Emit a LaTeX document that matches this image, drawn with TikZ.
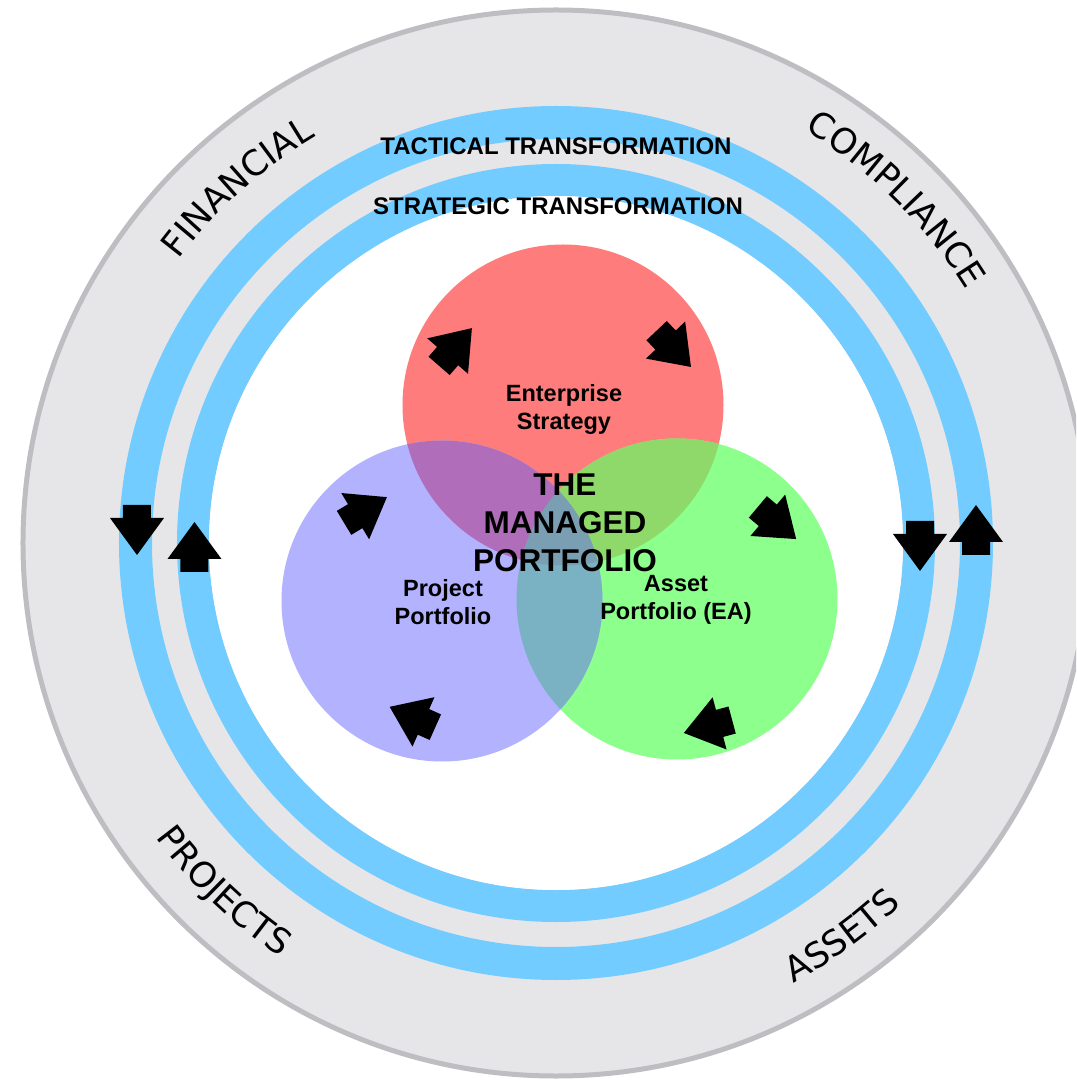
\documentclass[tikz,border=0pt]{standalone}
\usepackage{fontspec}
\setmainfont{Liberation Sans}
\newfontfamily\ringfont{DejaVu Sans}
\newcommand\ringsize{\fontsize{35}{40}\selectfont}
\usetikzlibrary{decorations.text}

\definecolor{ringgrey}{RGB}{230,230,232}
\definecolor{rimgrey}{RGB}{190,190,194}
\definecolor{ringblue}{RGB}{114,204,255}
\definecolor{stratred}{RGB}{255,124,124}
\definecolor{projblue}{RGB}{178,178,255}
\definecolor{assetgreen}{RGB}{140,255,140}
\definecolor{redblue}{RGB}{176,110,186}
\definecolor{redgreen}{RGB}{143,216,106}
\definecolor{bluegreen}{RGB}{122,178,196}
\definecolor{allthree}{RGB}{122,158,178}

\tikzset{
  bandtitle/.style={font=\bfseries\fontsize{24}{29}\selectfont},
  circtitle/.style={font=\bfseries\fontsize{23.5}{28}\selectfont, align=center},
  ringlabel/.style={decorate, decoration={text along path, text align=center, text={|\ringfont\ringsize|#1}}},
  blockarrow/.pic={\fill[black] (-25,-14) -- (-12,-14) -- (-12,-27) -- (25,0) -- (-12,27) -- (-12,14) -- (-25,14) -- cycle;}
}

\begin{document}
\begin{tikzpicture}[x=1pt, y=1pt]
  \useasboundingbox (-556,-538) rectangle (520,543);
  \clip (-556,-538) rectangle (520,543);

  % outer disc and the two transformation rings
  \fill[ringgrey, draw=rimgrey, line width=5] (0,0) circle (533);
  \draw[ringblue, line width=33] (0,0) circle (420.5);
  \draw[ringblue, line width=32] (0,0) circle (363);
  \fill[white] (0,0) circle (347);

  \node[bandtitle] (tactical)  at (0,397)    {TACTICAL TRANSFORMATION};
  \node[bandtitle] (strategic) at (2,336.5)  {STRATEGIC TRANSFORMATION};

  \path[ringlabel=FINANCIAL]  (161.8:472) arc[start angle=161.8, end angle=101.8, radius=472];
  \path[ringlabel=COMPLIANCE] (75.3:482)  arc[start angle=75.3,  end angle=15.3,  radius=482];
  \path[ringlabel=PROJECTS]   (196.4:497) arc[start angle=196.4, end angle=256.4, radius=497];
  \path[ringlabel=ASSETS]     (276:500)   arc[start angle=276,   end angle=336,   radius=500];

  % venn
  \coordinate (strategy) at (7,138);
  \coordinate (project)  at (-114,-58);
  \coordinate (asset)    at (121,-56);
  \def\vr{160.5}
  \fill[stratred]   (strategy) circle (\vr);
  \fill[assetgreen] (asset)    circle (\vr);
  \fill[projblue]   (project)  circle (\vr);
  \begin{scope}
    \clip (strategy) circle (\vr);
    \fill[redgreen] (asset)   circle (\vr);
    \fill[redblue]  (project) circle (\vr);
  \end{scope}
  \begin{scope}
    \clip (project) circle (\vr);
    \fill[bluegreen] (asset) circle (\vr);
    \clip (strategy) circle (\vr);
    \fill[allthree] (asset) circle (\vr);
  \end{scope}

  % turning arrows
  \foreach \pos/\ang in {(-100.5,196)/49, (117.8,194.2)/-46.6, (221,20)/-40, (152,-183.5)/195,
                         (-143.5,-174)/156, (-190.5,33)/31,
                         (-419,13)/-90, (-361.5,-4)/90, (364,-3)/-90, (420,13)/90}
    \pic[rotate=\ang] at \pos {blockarrow};

  \node[circtitle] (strategytext) at (8,134)     {Enterprise\\Strategy};
  \node[circtitle] (projecttext)  at (-113,-59.5) {Project\\Portfolio};
  \node[circtitle] (assettext)    at (120,-57)   {Asset\\Portfolio (EA)};
  \node[font=\bfseries\fontsize{31.5}{38}\selectfont, align=center] (managed) at (9,20.5) {THE\\MANAGED\\PORTFOLIO};
\end{tikzpicture}
\end{document}
